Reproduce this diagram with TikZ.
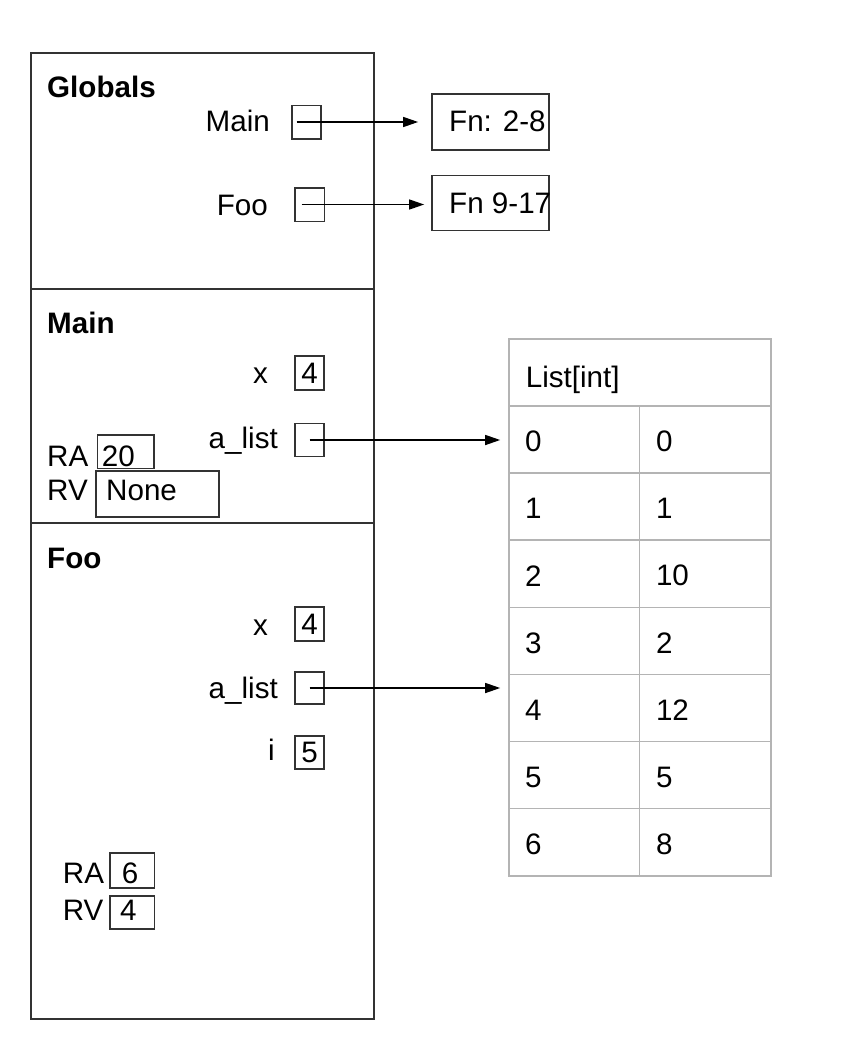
\documentclass[tikz,border=0pt]{standalone}
\usepackage{fontspec}
\setmainfont{Liberation Sans}
\usetikzlibrary{arrows.meta}
\newcommand\fsz{\fontsize{29.6}{35}\selectfont}
\definecolor{framecol}{HTML}{333333}
\definecolor{gridcol}{HTML}{B4B4B4}
\begin{document}
\begin{tikzpicture}[x=1pt,y=-1pt,
  txt/.style={font=\fsz, inner sep=0pt, text=black},
  btxt/.style={font=\fsz\bfseries, inner sep=0pt, text=black},
  frame/.style={draw=framecol, line width=2pt, inner sep=0pt},
  vbox/.style={draw=framecol, line width=1.7pt, inner sep=0pt, font=\fsz},
  tcell/.style={draw=gridcol, line width=1.6pt, inner sep=0pt},
  ptr/.style={-{Triangle[length=15pt,width=10pt]}, line width=1.4pt, black}]
\useasboundingbox (0,0) rectangle (862,1050);

% ---- frames ----
\node[frame, minimum width=343.3pt, minimum height=235.2pt] (fglob) at (202.35,170.9) {};
\node[frame, minimum width=343.3pt, minimum height=234.8pt] (fmain) at (202.35,405.9) {};
\node[frame, minimum width=343.3pt, minimum height=495.7pt] (ffoo) at (202.35,771.15) {};

% ---- Globals ----
\node[btxt, anchor=base west] (tglob) at (47,97.3) {Globals};
\node[txt, anchor=base east] (lgmain) at (270,131.7) {Main};
\node[vbox, minimum width=29.3pt, minimum height=33.3pt] (gmain) at (306.4,122) {};
\node[txt, anchor=base east] (lgfoo) at (268,215.7) {Foo};
\node[vbox, minimum width=29.3pt, minimum height=33.7pt] (gfoo) at (309.7,204.5) {};
\node[vbox, minimum width=117pt, minimum height=55.7pt] (fn1) at (490.5,122) {};
\node[txt, anchor=base west] (tfn1) at (449,131.7) {Fn: 2-8};
\node[vbox, minimum width=117pt, minimum height=55pt] (fn2) at (490.5,203) {};
\node[txt, anchor=base west] (tfn2) at (449,213.3) {Fn 9-17};
\draw[ptr, shorten >=13pt] ([xshift=-9.7pt]gmain.center) -- (gmain.center -| fn1.west);
\draw[ptr, shorten >=7pt] ([xshift=-8pt]gfoo.center) -- (gfoo.center -| fn2.west);

% ---- Main frame ----
\node[btxt, anchor=base west] (tmain) at (47,333.3) {Main};
\node[txt, anchor=base east] (lmx) at (268,383.3) {x};
\node[vbox, minimum width=29pt, minimum height=34pt] (mx) at (309.5,373) {4};
\node[txt, anchor=base east] (lma) at (278,448.3) {a\_list};
\node[vbox, minimum width=29pt, minimum height=33pt] (ma) at (309.5,440) {};
\node[txt, anchor=base west] (lmra) at (47,466.7) {RA};
\node[vbox, minimum width=56.7pt, minimum height=33.3pt] (mra) at (125.7,451.7) {};
\node[txt, anchor=base west] (tmra) at (101.7,466.7) {20};
\node[txt, anchor=base west] (lmrv) at (47,500) {RV};
\node[vbox, minimum width=123pt, minimum height=46.6pt] (mrv) at (157.5,494) {};
\node[txt, anchor=base west] (tmrv) at (106,500) {None};

% ---- Foo frame ----
\node[btxt, anchor=base west] (tfoo) at (47,568) {Foo};
\node[txt, anchor=base east] (lfx) at (268,635) {x};
\node[vbox, minimum width=29pt, minimum height=34pt] (fx) at (309.5,624) {4};
\node[txt, anchor=base east] (lfa) at (278,698) {a\_list};
\node[vbox, minimum width=29pt, minimum height=32.6pt] (fa) at (309.5,688) {};
\node[txt, anchor=base east] (lfi) at (275,760) {i};
\node[vbox, minimum width=29pt, minimum height=33pt] (fi) at (309.5,752.5) {5};
\node[txt, anchor=base west] (lfra) at (62.7,883.3) {RA};
\node[vbox, minimum width=44.3pt, minimum height=34.4pt] (fra) at (132.2,870.5) {};
\node[txt, anchor=base west] (tfra) at (121.7,883.3) {6};
\node[txt, anchor=base west] (lfrv) at (62.7,920) {RV};
\node[vbox, minimum width=44.3pt, minimum height=33.3pt] (frv) at (132.2,912.4) {};
\node[txt, anchor=base west] (tfrv) at (120,920) {4};

% ---- List table ----
\node[tcell, minimum width=262pt, minimum height=67pt] (lhead) at (639.7,372.5) {};
\node[txt, anchor=base west] (tlhead) at (525.6,387.5) {List[int]};
\foreach \i/\a/\b in {0/0/0,1/1/1,2/2/10,3/3/2,4/4/12,5/5/5,6/6/8}{
  \node[tcell, minimum width=130.9pt, minimum height=67.1pt] (r\i-a) at (574.15,{439.55+67.1*\i}) {};
  \node[tcell, minimum width=131.1pt, minimum height=67.1pt] (r\i-b) at (705.15,{439.55+67.1*\i}) {};
  \node[txt, anchor=west] (t\i-a) at ([xshift=17pt,yshift=-2pt]r\i-a.west) {\a};
  \node[txt, anchor=west] (t\i-b) at ([xshift=17pt,yshift=-2pt]r\i-b.west) {\b};
}

% ---- pointers to list ----
\draw[ptr, shorten >=7.7pt] (ma.center) -- (ma.center -| r0-a.west);
\draw[ptr, shorten >=7.7pt] (fa.center) -- (fa.center -| r4-a.west);
\end{tikzpicture}
\end{document}
